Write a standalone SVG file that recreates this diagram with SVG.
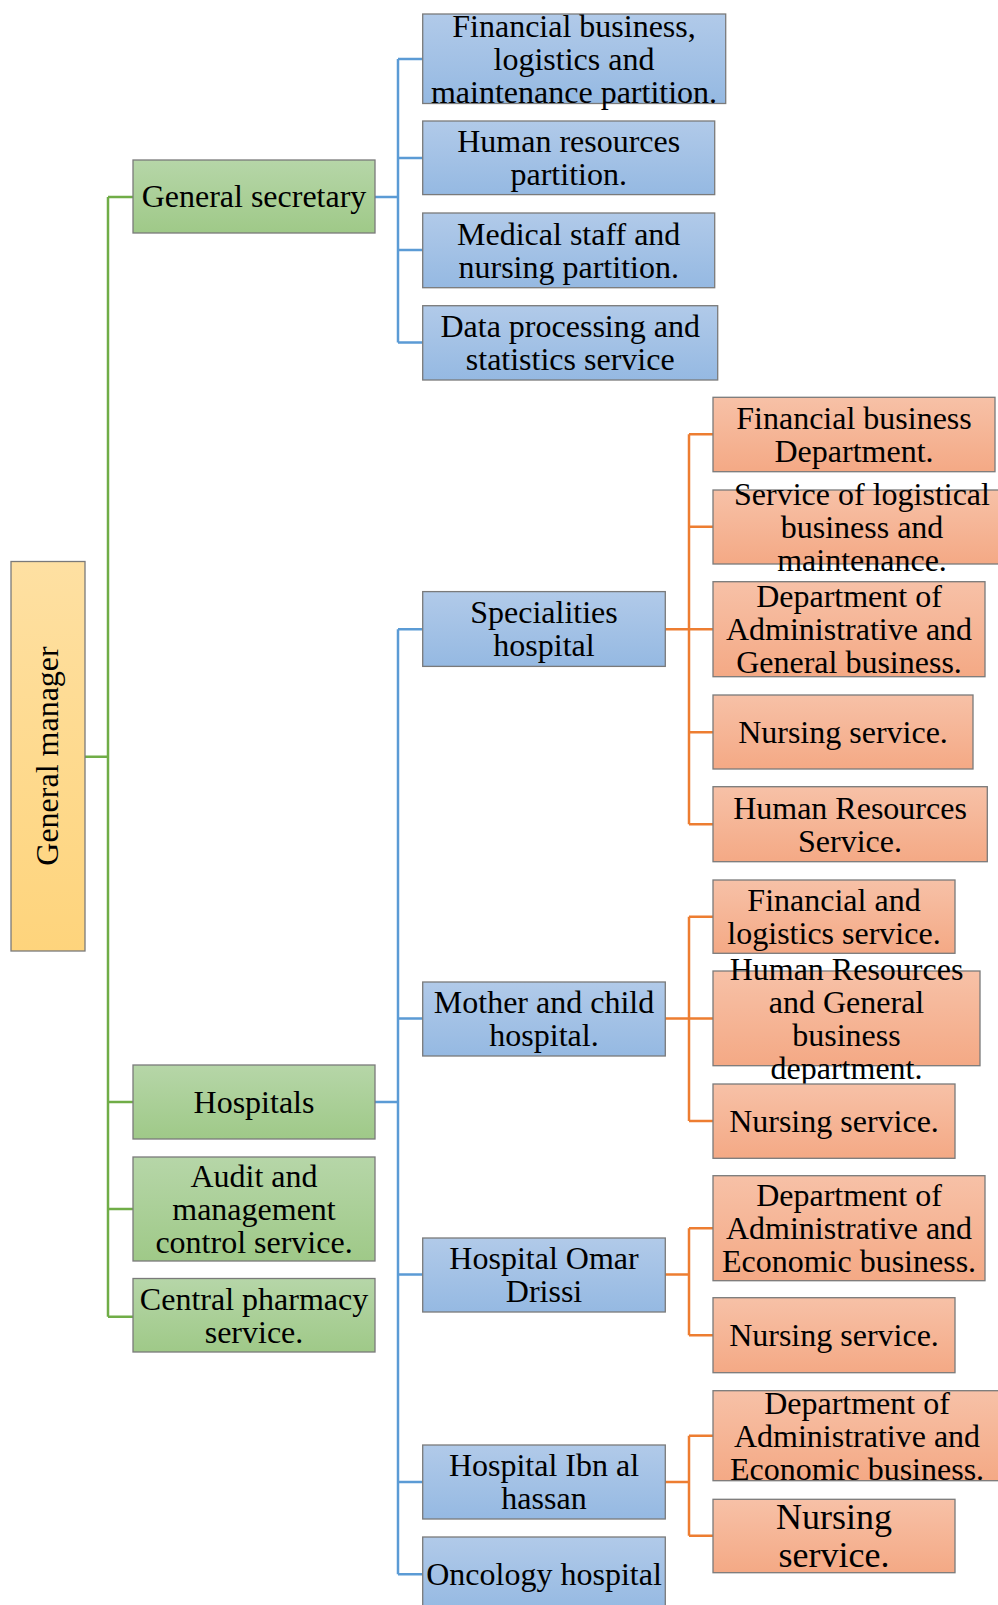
<svg xmlns="http://www.w3.org/2000/svg" width="998" height="1605" viewBox="0 0 998 1605">
  <defs>
    <linearGradient id="gYellow" x1="0" y1="0" x2="0" y2="1">
      <stop offset="0" stop-color="#fee0a2"/>
      <stop offset="1" stop-color="#fed47c"/>
    </linearGradient>
    <linearGradient id="gGreen" x1="0" y1="0" x2="0" y2="1">
      <stop offset="0" stop-color="#b6d6a8"/>
      <stop offset="1" stop-color="#9fc988"/>
    </linearGradient>
    <linearGradient id="gBlue" x1="0" y1="0" x2="0" y2="1">
      <stop offset="0" stop-color="#b1cae9"/>
      <stop offset="1" stop-color="#95b9e2"/>
    </linearGradient>
    <linearGradient id="gOrange" x1="0" y1="0" x2="0" y2="1">
      <stop offset="0" stop-color="#f7c1a7"/>
      <stop offset="1" stop-color="#f4a985"/>
    </linearGradient>
  </defs>
  <style>
    rect { stroke: #7a7a7a; stroke-width: 1.3; }
    .yellow { fill: url(#gYellow); }
    .green { fill: url(#gGreen); }
    .blue { fill: url(#gBlue); }
    .orange { fill: url(#gOrange); }
    text { font-family: "Liberation Serif", "Times New Roman", serif; font-size: 32px; fill: #000; text-anchor: middle; }
    .big { font-size: 36px; }
    .conn path { fill: none; stroke-width: 2.5; }
    .cg { stroke: #70ad47; }
    .cb { stroke: #5b9bd5; }
    .co { stroke: #ed7d31; }
  </style>

  <!-- connectors -->
  <g id="connectors" class="conn">
    <path class="cg" d="M85 756.7H108 M108 197V1316.7 M108 197H133 M108 1102H133 M108 1209H133 M108 1316.7H133"/>
    <path class="cb" d="M375 197H398 M398 59V342.5 M398 59H422.7 M398 158H422.7 M398 250H422.7 M398 342.5H422.7"/>
    <path class="cb" d="M375 1102H398 M398 629.3V1574.3 M398 629.3H422.7 M398 1018.5H422.7 M398 1274.5H422.7 M398 1482H422.7 M398 1574.3H422.7"/>
    <path class="co" d="M665.3 629.3H689 M689 434.3V824.3 M689 434.3H713 M689 526.7H713 M689 629.3H713 M689 732.3H713 M689 824.3H713"/>
    <path class="co" d="M665.3 1018.5H689 M689 916.7V1121 M689 916.7H713 M689 1018.5H713 M689 1121H713"/>
    <path class="co" d="M665.3 1274.5H689 M689 1228.3V1335.3 M689 1228.3H713 M689 1335.3H713"/>
    <path class="co" d="M665.3 1482H689 M689 1435.7V1535.7 M689 1435.7H713 M689 1535.7H713"/>
  </g>

  <!-- root -->
  <g id="general-manager">
    <rect class="yellow" x="11" y="561.5" width="74" height="389.5"/>
    <text transform="translate(58,756) rotate(-90)">General manager</text>
  </g>

  <!-- second level -->
  <g id="general-secretary">
    <rect class="green" x="133" y="160" width="242" height="73"/>
    <text x="254" y="207.3">General secretary</text>
  </g>
  <g id="hospitals">
    <rect class="green" x="133" y="1065" width="242" height="74"/>
    <text x="254" y="1112.8">Hospitals</text>
  </g>
  <g id="audit">
    <rect class="green" x="133" y="1157" width="242" height="104"/>
    <text x="254" y="1186.8">Audit and</text>
    <text x="254" y="1219.8">management</text>
    <text x="254" y="1252.8">control service.</text>
  </g>
  <g id="central-pharmacy">
    <rect class="green" x="133" y="1278.5" width="242" height="73.5"/>
    <text x="254" y="1309.6">Central pharmacy</text>
    <text x="254" y="1342.6">service.</text>
  </g>

  <!-- secretary partitions -->
  <g id="financial-partition">
    <rect class="blue" x="422.7" y="14" width="303" height="89.5"/>
    <text x="574" y="36.5">Financial business,</text>
    <text x="574" y="69.5">logistics and</text>
    <text x="574" y="102.5">maintenance partition.</text>
  </g>
  <g id="hr-partition">
    <rect class="blue" x="422.7" y="121" width="292" height="73.6"/>
    <text x="568.7" y="152.1">Human resources</text>
    <text x="568.7" y="185.1">partition.</text>
  </g>
  <g id="medical-partition">
    <rect class="blue" x="422.7" y="213" width="292" height="74.7"/>
    <text x="568.7" y="244.6">Medical staff and</text>
    <text x="568.7" y="277.6">nursing partition.</text>
  </g>
  <g id="data-service">
    <rect class="blue" x="422.7" y="305.7" width="295" height="74.3"/>
    <text x="570.2" y="337.1">Data processing and</text>
    <text x="570.2" y="370.1">statistics service</text>
  </g>

  <!-- hospitals -->
  <g id="specialities-hospital">
    <rect class="blue" x="422.7" y="591.6" width="242.6" height="74.8"/>
    <text x="544" y="623.3">Specialities</text>
    <text x="544" y="656.3">hospital</text>
  </g>
  <g id="mother-child-hospital">
    <rect class="blue" x="422.7" y="982" width="242.6" height="74"/>
    <text x="544" y="1013.3">Mother and child</text>
    <text x="544" y="1046.3">hospital.</text>
  </g>
  <g id="omar-drissi-hospital">
    <rect class="blue" x="422.7" y="1238" width="242.6" height="74"/>
    <text x="544" y="1269.3">Hospital Omar</text>
    <text x="544" y="1302.3">Drissi</text>
  </g>
  <g id="ibn-al-hassan-hospital">
    <rect class="blue" x="422.7" y="1445" width="242.6" height="74"/>
    <text x="544" y="1476.3">Hospital Ibn al</text>
    <text x="544" y="1509.3">hassan</text>
  </g>
  <g id="oncology-hospital">
    <rect class="blue" x="422.7" y="1537" width="242.6" height="74"/>
    <text x="544" y="1585">Oncology hospital</text>
  </g>

  <!-- specialities hospital services -->
  <g id="sh-financial">
    <rect class="orange" x="713" y="397.3" width="282" height="74.4"/>
    <text x="854" y="428.8">Financial business</text>
    <text x="854" y="461.8">Department.</text>
  </g>
  <g id="sh-logistics">
    <rect class="orange" x="713" y="490" width="298" height="74"/>
    <text x="862" y="504.8">Service of logistical</text>
    <text x="862" y="537.8">business and</text>
    <text x="862" y="570.8">maintenance.</text>
  </g>
  <g id="sh-admin">
    <rect class="orange" x="713" y="581.7" width="272" height="95"/>
    <text x="849" y="607">Department of</text>
    <text x="849" y="640">Administrative and</text>
    <text x="849" y="673">General business.</text>
  </g>
  <g id="sh-nursing">
    <rect class="orange" x="713" y="695" width="260" height="74"/>
    <text x="843" y="742.8">Nursing service.</text>
  </g>
  <g id="sh-hr">
    <rect class="orange" x="713" y="786.7" width="274.3" height="75"/>
    <text x="850" y="818.5">Human Resources</text>
    <text x="850" y="851.5">Service.</text>
  </g>

  <!-- mother and child hospital services -->
  <g id="mc-financial">
    <rect class="orange" x="713" y="880" width="242" height="73.3"/>
    <text x="834" y="911">Financial and</text>
    <text x="834" y="944">logistics service.</text>
  </g>
  <g id="mc-hr">
    <rect class="orange" x="713" y="971" width="267" height="94.7"/>
    <text x="846.5" y="979.6">Human Resources</text>
    <text x="846.5" y="1012.6">and General</text>
    <text x="846.5" y="1045.6">business</text>
    <text x="846.5" y="1078.6">department.</text>
  </g>
  <g id="mc-nursing">
    <rect class="orange" x="713" y="1084" width="242" height="74.3"/>
    <text x="834" y="1131.8">Nursing service.</text>
  </g>

  <!-- omar drissi hospital services -->
  <g id="od-admin">
    <rect class="orange" x="713" y="1175.7" width="272" height="105"/>
    <text x="849" y="1206">Department of</text>
    <text x="849" y="1239">Administrative and</text>
    <text x="849" y="1272">Economic business.</text>
  </g>
  <g id="od-nursing">
    <rect class="orange" x="713" y="1297.7" width="242" height="75"/>
    <text x="834" y="1346">Nursing service.</text>
  </g>

  <!-- ibn al hassan hospital services -->
  <g id="ih-admin">
    <rect class="orange" x="713" y="1390.7" width="288" height="90"/>
    <text x="857" y="1413.5">Department of</text>
    <text x="857" y="1446.5">Administrative and</text>
    <text x="857" y="1479.5">Economic business.</text>
  </g>
  <g id="ih-nursing">
    <rect class="orange" x="713" y="1499.3" width="242" height="73.4"/>
    <text class="big" x="834" y="1529.2">Nursing</text>
    <text class="big" x="834" y="1567.2">service.</text>
  </g>
</svg>
